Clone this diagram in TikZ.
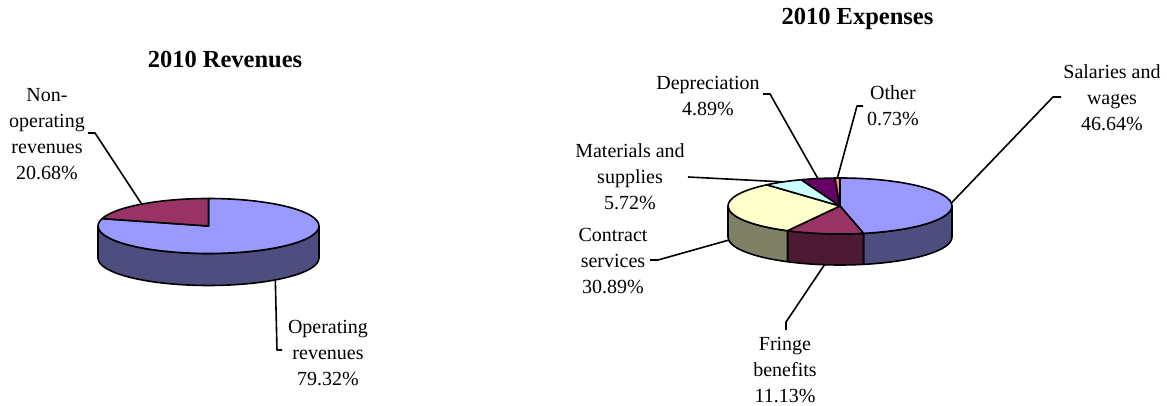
\documentclass[tikz,border=0pt]{standalone}
\usepackage{fontspec}
\setmainfont{Liberation Serif}
\definecolor{salblue}{HTML}{9999FF}
\definecolor{salside}{HTML}{4D4D80}
\definecolor{plum}{HTML}{993366}
\definecolor{plumside}{HTML}{4D1A33}
\definecolor{cream}{HTML}{FFFFCC}
\definecolor{creamside}{HTML}{808066}
\definecolor{aqua}{HTML}{CCFFFF}
\definecolor{grape}{HTML}{660066}
\definecolor{salmon}{HTML}{FF8080}
\begin{document}
\begin{tikzpicture}[ultra thick,x=1pt,y=1pt,line join=round,
    lbl/.style={align=center,font=\fontsize{20}{26}\selectfont},
    ttl/.style={font=\fontsize{24.5}{29}\selectfont\bfseries}]
      \useasboundingbox (0,0) rectangle (1167,406);
      \node[ttl] (R0) at (225,346) {2010 Revenues};
      \node[ttl] (E0) at (857.5,387) {2010 Expenses};
      \begin{scope}[shift={(208.5,180)}]
        \filldraw[fill=salside] (180:110.5 and 27.5) arc[start angle=180,end angle=360,x radius=110.5,y radius=27.5]
          -- ++(0,-32) arc[start angle=360,end angle=180,x radius=110.5,y radius=27.5] -- cycle;
        \filldraw[fill=salblue] (0,0) -- (90:110.5 and 27.5) arc[start angle=90,end angle=-195.55,x radius=110.5,y radius=27.5] -- cycle;
        \filldraw[fill=plum] (0,0) -- (164.45:110.5 and 27.5) arc[start angle=164.45,end angle=90,x radius=110.5,y radius=27.5] -- cycle;
      \end{scope}
      \begin{scope}[shift={(840,200)}]
        \foreach \a/\b/\c in {-77.9/0/salside,-117.97/-77.9/plumside,-180/-117.97/creamside}
          \filldraw[fill=\c] (\a:112 and 28) arc[start angle=\a,end angle=\b,x radius=112,y radius=28]
            -- ++(0,-31) arc[start angle=\b,end angle=\a,x radius=112,y radius=28] -- cycle;
        \foreach \a/\b/\c in {90/-77.9/salblue,-77.9/-117.97/plum,-117.97/-229.17/cream,
            -229.17/-249.76/aqua,-249.76/-267.37/grape,-267.37/-270/salmon}
          \filldraw[fill=\c] (0,0) -- (\a:112 and 28) arc[start angle=\a,end angle=\b,x radius=112,y radius=28] -- cycle;
      \end{scope}
      \node[lbl] (R1) at (47,272) {Non-\\operating\\revenues\\20.68\%};
      \node[lbl] (R2) at (328,53) {Operating\\revenues\\79.32\%};
      \node[lbl] (E1) at (1112,308.5) {Salaries and\\wages\\46.64\%};
      \node[lbl] (E2) at (785,36) {Fringe\\benefits\\11.13\%};
      \node[lbl] (E3) at (613,145) {Contract\\services\\30.89\%};
      \node[lbl] (E4) at (630,229) {Materials and\\supplies\\5.72\%};
      \node[lbl] (E5) at (708,310) {Depreciation\\4.89\%};
      \node[lbl] (E6) at (893,300) {Other\\0.73\%};
      \coordinate (R1p) at (141.7,201.9);
      \coordinate (R1k) at (95,273);
      \coordinate (R1t) at (88,273);
      \coordinate (R2p) at (275.3,126.1);
      \coordinate (R2k) at (277,56);
      \coordinate (R2t) at (282,56);
      \coordinate (E1p) at (951.4,203);
      \coordinate (E1k) at (1053,309);
      \coordinate (E1t) at (1061,309);
      \coordinate (E2p) at (824.5,141.3);
      \coordinate (E2k) at (786,84);
      \coordinate (E2t) at (786,76);
      \coordinate (E3p) at (728.7,165.9);
      \coordinate (E3k) at (658,146);
      \coordinate (E3t) at (650,146);
      \coordinate (E4p) at (783.1,224.1);
      \coordinate (E4t) at (688,229);
      \coordinate (E5p) at (817.9,227.4);
      \coordinate (E5k) at (770,312);
      \coordinate (E5t) at (763,312);
      \coordinate (E6p) at (837.4,228);
      \coordinate (E6k) at (857,300);
      \coordinate (E6t) at (863,300);
      \foreach \n in {R1,R2,E1,E2,E3,E5,E6}
        \draw (\n p) -- (\n k) -- (\n t);
      \draw (E4p) -- (E4t);
    \end{tikzpicture}
\end{document}
